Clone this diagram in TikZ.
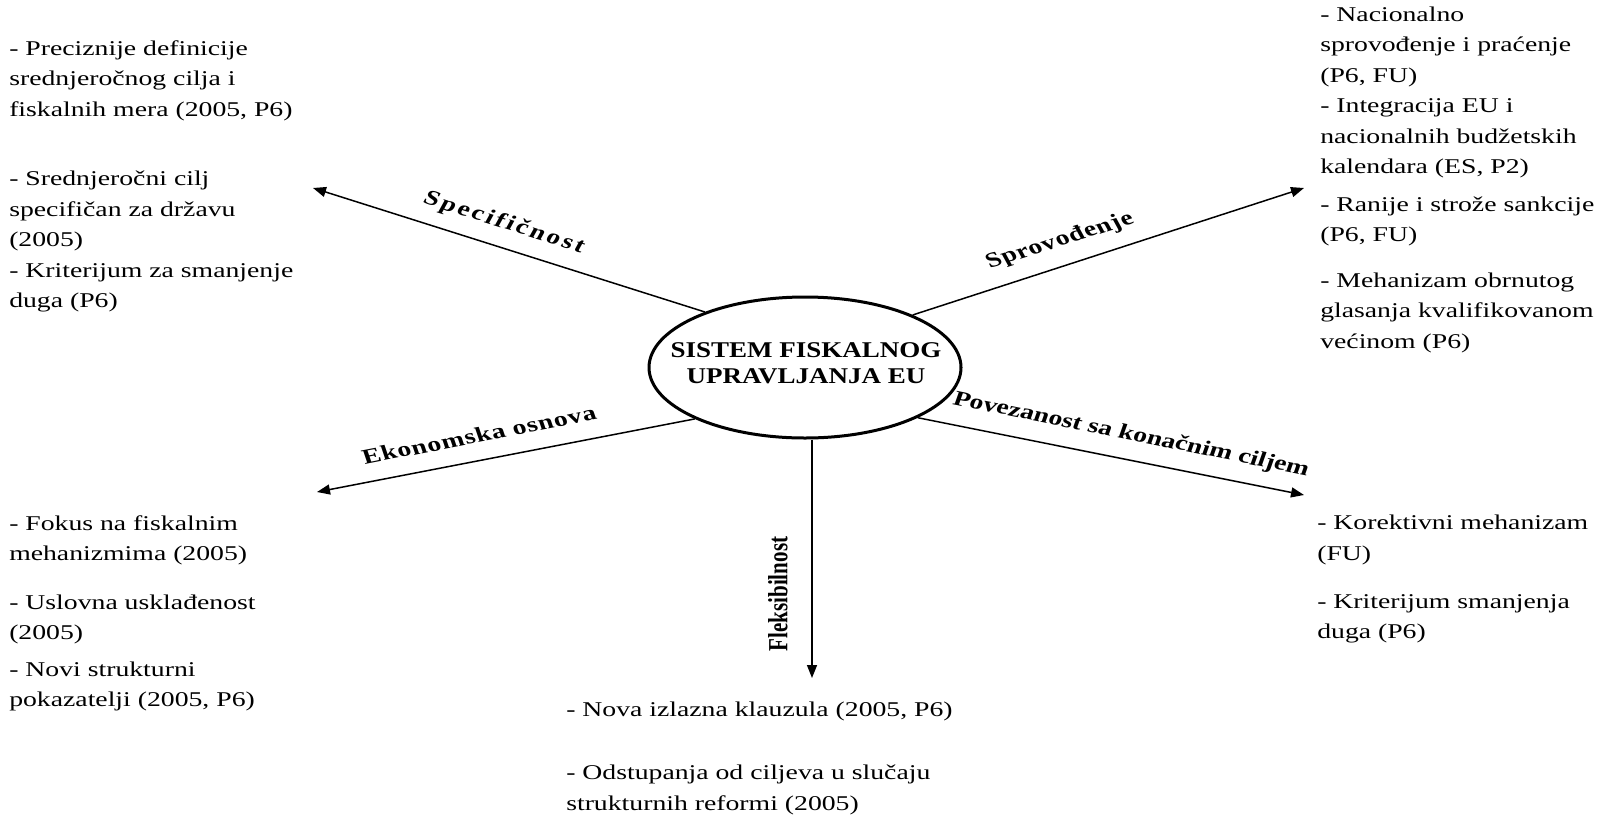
\documentclass[tikz,border=0pt]{standalone}
\usepackage{fontspec}
\setmainfont{Liberation Serif}
\newfontfamily\spacedserif[LetterSpace=10]{Liberation Serif}
\newfontfamily\looseserif[LetterSpace=3]{Liberation Serif}
\usetikzlibrary{arrows.meta,shapes.geometric}
\begin{document}
\begin{tikzpicture}[x=1pt,y=-1pt,
  item/.style={anchor=base west, inner sep=0pt, align=left,
    xscale=1.32, transform shape, font=\fontsize{21}{30.4}\selectfont},
  axislabel/.style={inner sep=0pt, xscale=1.32, transform shape,
    font=\looseserif\bfseries\fontsize{21}{25}\selectfont},
  spoke/.style={line width=1.5pt, -{Triangle[length=13pt,width=10pt]}},
  hub/.style={draw, line width=3pt, ellipse, minimum width=312pt,
    minimum height=141pt, inner sep=0pt}
]
\useasboundingbox (0,0) rectangle (1597,814);

% central ellipse and its title
\node[hub] (hub) at (805,367.5) {};
\node[inner sep=0pt] (hubtext) at (806,365)
  {\scalebox{1.2}[1]{\bfseries\fontsize{22.5}{26}\selectfont
   \begin{tabular}{@{}c@{}}SISTEM FISKALNOG\\UPRAVLJANJA EU\end{tabular}}};

% free ends of the spokes
\coordinate (tSpec) at (313,188);
\coordinate (tSpro) at (1304,188);
\coordinate (tEko)  at (317,492);
\coordinate (tPov)  at (1304,495);
\coordinate (tFle)  at (812,678);

% spokes
\draw[spoke] (hub.151.2) -- (tSpec);
\draw[spoke] (hub.26.8)  -- (tSpro);
\draw[spoke] (hub.205.7) -- (tEko);
\draw[spoke] (hub.336.7) -- (tPov);
\draw[spoke] (hub.south -| tFle) -- (tFle);

% spoke labels
\node[axislabel, font=\spacedserif\bfseries\fontsize{21}{25}\selectfont, rotate=-22.6]
  (lSpec) at (504,223) {Specifičnost};
\node[axislabel, rotate=22.5]  (lSpro) at (1060,241) {Sprovođenje};
\node[axislabel, rotate=14.4]  (lEko)  at (479,435) {Ekonomska osnova};
\node[axislabel, font=\bfseries\fontsize{21}{25}\selectfont, rotate=-14.9]
  (lPov) at (1131,435) {Povezanost sa konačnim ciljem};
\node[axislabel, font=\bfseries\fontsize{21}{25}\selectfont, rotate=90]
  (lFle) at (778,594) {Fleksibilnost};

% text blocks (placed by the baseline of their last line)
\node[item] (bTL) at (9,307.5) {- Preciznije definicije\\ srednjeročnog cilja i\\ fiskalnih mera (2005, P6)\\[39.5pt]
  - Srednjeročni cilj\\ specifičan za državu\\ (2005)\\ - Kriterijum za smanjenje\\ duga (P6)};

\node[item] (bTR) at (1320,348) {- Nacionalno\\ sprovođenje i praćenje\\ (P6, FU)\\ - Integracija EU i\\
  nacionalnih budžetskih\\ kalendara (ES, P2)\\[7.5pt] - Ranije i strože sankcije\\ (P6, FU)\\[15pt]
  - Mehanizam obrnutog\\ glasanja kvalifikovanom\\ većinom (P6)};

\node[item] (bBL) at (9,706.5) {- Fokus na fiskalnim\\ mehanizmima (2005)\\[18.5pt] - Uslovna usklađenost\\ (2005)\\[6pt]
  - Novi strukturni\\ pokazatelji (2005, P6)};

\node[item] (bBR) at (1317,638.5) {- Korektivni mehanizam\\ (FU)\\[17.5pt] - Kriterijum smanjenja\\ duga (P6)};

\node[item] (bBC) at (566,810) {- Nova izlazna klauzula (2005, P6)\\[32.5pt] - Odstupanja od ciljeva u slučaju\\
  strukturnih reformi (2005)};
\end{tikzpicture}
\end{document}
